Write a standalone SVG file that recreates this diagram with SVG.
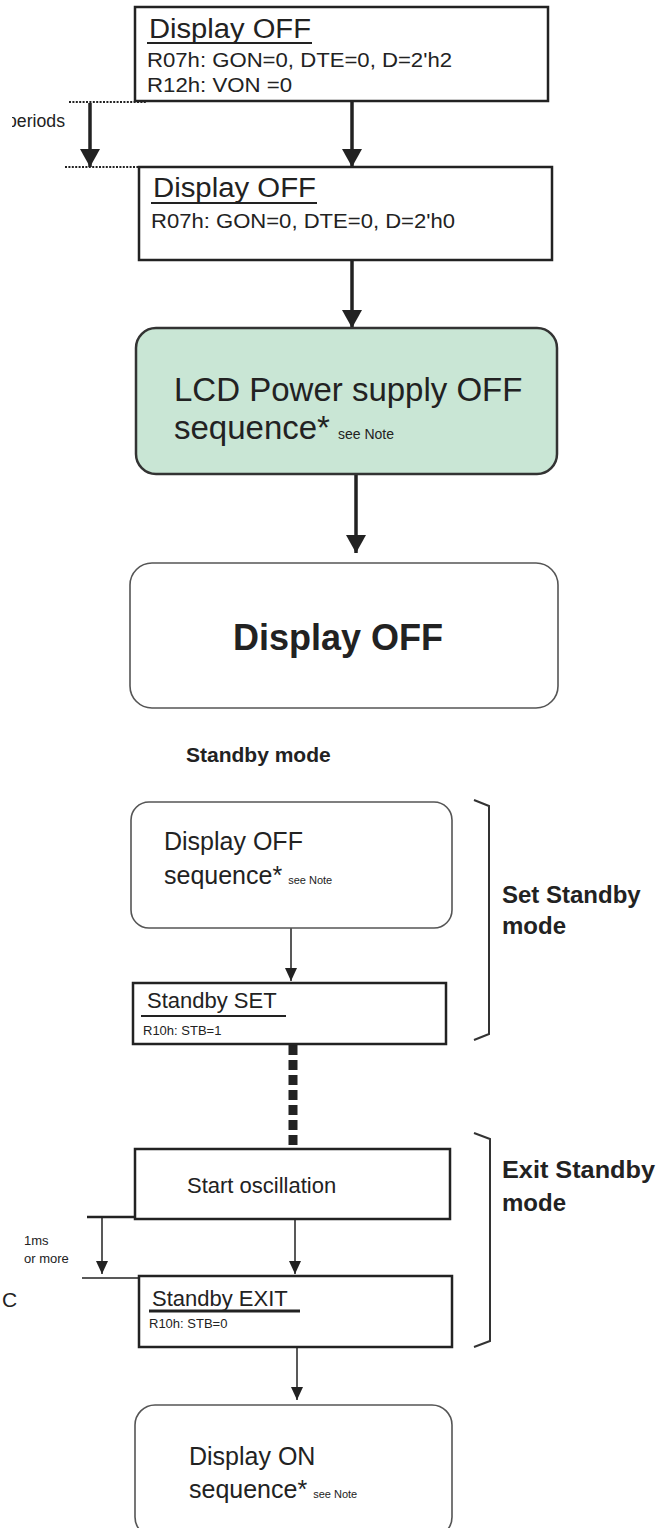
<svg xmlns="http://www.w3.org/2000/svg" width="672" height="1528" viewBox="0 0 672 1528">
<defs>
<marker id="ahBig" markerUnits="userSpaceOnUse" markerWidth="18" markerHeight="20" refX="18" refY="10" orient="auto"><path d="M0,0 L18,10 L0,20 z" fill="#222"/></marker>
<marker id="ahSmall" markerUnits="userSpaceOnUse" markerWidth="13" markerHeight="12" refX="13" refY="6" orient="auto"><path d="M0,0 L13,6 L0,12 z" fill="#222"/></marker>
<clipPath id="leftCut"><rect x="12" y="100" width="80" height="40"/></clipPath>
<style>
text{font-family:"Liberation Sans",Arial,sans-serif;fill:#222}
.box{fill:#fff;stroke:#222;stroke-width:2.5}
.rbox{fill:#fff;stroke:#555;stroke-width:1.6}
.green{fill:#c9e6d5;stroke:#333;stroke-width:2.5}
.ul{stroke:#222;stroke-width:2}
.big{stroke:#222;stroke-width:3.5;fill:none;marker-end:url(#ahBig)}
.thin{stroke:#222;stroke-width:1.5;fill:none;marker-end:url(#ahSmall)}
.dot{stroke:#222;stroke-width:2.2;stroke-dasharray:2 1.4;fill:none}
.brace{stroke:#333;stroke-width:2;fill:none}
.t27{font-size:27px}.t19{font-size:19.5px}.t33{font-size:33px}
.t25{font-size:25px}.t22{font-size:22px}.t13{font-size:13px}
.lbl{font-weight:bold;font-size:24px}
</style>
</defs>
<rect width="672" height="1528" fill="#fff"/>

<g id="connectors">
<line class="big" x1="352" y1="101" x2="352" y2="167"/>
<line class="big" x1="90" y1="103" x2="90" y2="167"/>
<line class="dot" x1="69" y1="102" x2="147" y2="102"/>
<line class="dot" x1="65" y1="167" x2="147" y2="167"/>
<line class="big" x1="352" y1="260" x2="352" y2="328"/>
<line class="big" x1="356" y1="474" x2="356" y2="553"/>
<line class="thin" x1="291" y1="928" x2="291" y2="981"/>
<line x1="293" y1="1045" x2="293" y2="1149" stroke="#222" stroke-width="9" stroke-dasharray="10 5"/>
<line x1="87" y1="1217" x2="135" y2="1217" stroke="#222" stroke-width="2.5"/>
<line class="thin" x1="102" y1="1217" x2="102" y2="1274"/>
<line x1="82" y1="1278" x2="139" y2="1278" stroke="#222" stroke-width="1.5"/>
<line class="thin" x1="295" y1="1219" x2="295" y2="1274"/>
<line class="thin" x1="297" y1="1347" x2="297" y2="1400"/>
<path class="brace" d="M474,800 L489,806 L489,1034 L474,1040"/>
<path class="brace" d="M474,1133 L490,1139 L490,1341 L474,1347" stroke="#666"/>
</g>

<g id="box1">
<rect class="box" x="135" y="7" width="413" height="94"/>
<text class="t27" x="149" y="38" textLength="162" lengthAdjust="spacingAndGlyphs">Display OFF</text>
<line class="ul" x1="147" y1="43" x2="312" y2="43"/>
<text class="t19" x="147" y="67" textLength="305" lengthAdjust="spacingAndGlyphs">R07h: GON=0, DTE=0, D=2'h2</text>
<text class="t19" x="147" y="92" textLength="145" lengthAdjust="spacingAndGlyphs">R12h: VON =0</text>
</g>

<g id="box2">
<rect class="box" x="139" y="167" width="413" height="93"/>
<text class="t27" x="153" y="197" textLength="163" lengthAdjust="spacingAndGlyphs">Display OFF</text>
<line class="ul" x1="151" y1="203" x2="317" y2="203"/>
<text class="t19" x="151" y="228" textLength="304" lengthAdjust="spacingAndGlyphs">R07h: GON=0, DTE=0, D=2'h0</text>
</g>

<g id="lcdPowerOff">
<rect class="green" x="136" y="328" width="421" height="146" rx="20"/>
<text class="t33" x="174" y="401">LCD Power supply OFF</text>
<text class="t33" x="174" y="439">sequence*<tspan font-size="14" dx="8">see Note</tspan></text>
</g>

<g id="displayOffBig">
<rect class="rbox" x="130" y="563" width="428" height="145" rx="22"/>
<text x="338" y="650" font-size="36" font-weight="bold" text-anchor="middle">Display OFF</text>
</g>

<g id="labels">
<text x="7" y="127" font-size="18" textLength="58" lengthAdjust="spacingAndGlyphs" clip-path="url(#leftCut)">periods</text>
<text x="186" y="762" font-size="21" font-weight="bold">Standby mode</text>
<text class="lbl" x="502" y="903">Set Standby</text>
<text class="lbl" x="502" y="934">mode</text>
<text class="lbl" x="502" y="1178" textLength="153" lengthAdjust="spacingAndGlyphs">Exit Standby</text>
<text class="lbl" x="502" y="1211">mode</text>
<text x="24" y="1245" font-size="13">1ms</text>
<text x="24" y="1263" font-size="13">or more</text>
<text x="2" y="1307" font-size="21">C</text>
</g>

<g id="displayOffSeq">
<rect class="rbox" x="131" y="802" width="321" height="126" rx="18"/>
<text class="t25" x="164" y="850">Display OFF</text>
<text class="t25" x="164" y="884">sequence*<tspan font-size="11" dx="6">see Note</tspan></text>
</g>

<g id="standbySet">
<rect class="box" x="133" y="983" width="313" height="61"/>
<text class="t22" x="147" y="1008">Standby SET</text>
<line class="ul" x1="141" y1="1016" x2="286" y2="1016"/>
<text class="t13" x="143" y="1035">R10h: STB=1</text>
</g>

<g id="startOsc">
<rect class="box" x="135" y="1149" width="315" height="70"/>
<text class="t22" x="187" y="1193">Start oscillation</text>
</g>

<g id="standbyExit">
<rect class="box" x="139" y="1276" width="313" height="71" stroke-width="3"/>
<text class="t22" x="152" y="1306">Standby EXIT</text>
<line x1="149" y1="1311" x2="300" y2="1311" stroke="#222" stroke-width="3"/>
<text class="t13" x="149" y="1328">R10h: STB=0</text>
</g>

<g id="displayOnSeq">
<rect class="rbox" x="135" y="1405" width="317" height="132" rx="20"/>
<text class="t25" x="189" y="1465">Display ON</text>
<text class="t25" x="189" y="1498">sequence*<tspan font-size="11" dx="6">see Note</tspan></text>
</g>
</svg>
